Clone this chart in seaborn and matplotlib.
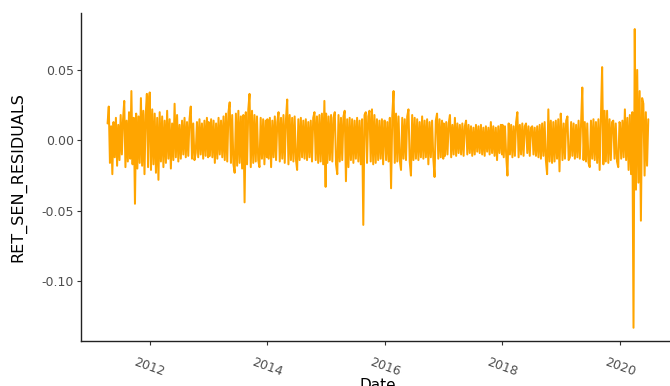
import pandas as pd
import numpy as np
import matplotlib
matplotlib.use("Agg")
import matplotlib.pyplot as plt
import matplotlib.dates as mdates
from matplotlib.ticker import FormatStrFormatter
import seaborn as sns

# Residuals, one list per calendar year (approximate weekly sampling)
res_2011 = [.012, .024, -.016, .010, -.024, .013, -.012, .016, -.018, .011,
            -.014, .018, -.010, .015, .028, -.019, .014, -.015, .020, -.013,
            .035, -.017, .016, -.045, .019, -.020, .017, -.016, .030, -.018,
            .021, -.024, .018, .033, -.019, .031]
res_2012 = [.034, -.021, .022, -.017, .019, -.023, .016, -.028, .020, -.015,
            .017, -.019, .014, -.016, .021, -.013, .015, -.020, .012, -.014,
            .026, -.012, .018, -.015, .011, -.013, .014, -.010, .016, -.012,
            .013, -.011, .015, .024, -.013, .012, -.014, -.009, .013, -.012,
            .015, -.010, .012, -.013, .014, -.011, .016, -.012]
res_2013 = [.013, -.011, .015, -.012, .014, -.016, .012, -.013, .016, -.010,
            .014, -.012, .017, -.014, .019, -.015, .020, .027, -.016, .018,
            -.017, -.023, .019, -.018, .021, -.016, .017, -.020, .018, -.044,
            .020, -.017, .022, .033, -.019, .021, -.016, .018, -.015, .017,
            -.014, -.019, .016, -.013, .015, -.017, .014, -.012]
res_2014 = [.015, -.013, .016, -.019, .014, -.012, .017, -.014, .013, .020,
            -.015, .016, -.013, .018, -.016, .015, .029, -.017, .018, -.014,
            .016, -.015, .017, -.013, -.021, .015, -.014, .016, -.012, .014,
            -.013, .015, -.014, .013, -.012, .014, -.015, .016, .020, -.014,
            .017, -.016, .018, -.015, .019, -.017, .028, -.033]
res_2015 = [.019, -.016, .017, -.014, .018, -.015, .016, .020, -.017, -.024,
            .018, -.015, .016, -.014, .017, .021, -.029, .015, -.019, .016,
            -.014, .015, -.016, .014, -.013, .016, -.015, .014, -.017, .015,
            -.060, .018, .020, -.016, .017, .021, -.015, .022, -.017, .018,
            -.016, .015, -.014, .014, -.013, .015, -.017, .014]
res_2016 = [.014, -.014, .013, -.015, .016, -.034, .018, .035, -.016, .019,
            -.015, .017, -.014, -.021, .016, -.013, .015, -.014, .017, .022,
            -.015, -.025, .018, -.014, .016, -.013, .015, -.014, .013, -.012,
            .017, -.013, .014, -.012, .015, -.017, .013, -.012, .014, -.013,
            -.026, .014, .019, -.013, .015, -.012, .014, -.013]
res_2017 = [.012, -.011, .013, -.010, .012, .018, -.012, .011, -.010, .016,
            -.011, .012, -.009, .011, -.010, .012, -.011, .010, .014, -.010,
            .011, -.009, .010, -.011, .009, -.010, .011, -.008, .010, -.009,
            .011, -.010, .009, -.011, .010, -.008, .009, -.010, .013, -.009,
            .010, -.011, .009, -.014, .010, -.009, .011, -.010]
res_2018 = [.011, -.012, .010, -.011, -.025, .012, -.010, .011, -.012, .010,
            -.011, .013, .020, -.012, .011, -.010, .012, -.011, .010, .012,
            -.009, .010, -.011, .009, .010, -.010, .009, -.011, .010, -.012,
            .011, -.013, .012, -.011, .013, -.014, -.024, .022, -.015, .014,
            -.016, .013, -.015, .014, -.013, .015, -.022, .019]
res_2019 = [.013, -.014, .012, -.013, .014, .017, -.014, -.012, .013, -.011,
            .012, -.013, .011, -.012, .014, -.013, .012, .0375, -.014, .013,
            -.015, .012, -.016, -.019, .014, -.013, .015, -.014, .013, -.016,
            .015, -.021, .016, .052, -.017, .021, -.015, .021, -.016, .015,
            -.014, .013, .014, -.013, .012, -.015, -.019, .013]
res_2020 = [.012, -.013, .014, -.012, .022, -.014, .016, -.021, .018, -.024,
            .020, -.133, .079, -.035, .050, -.030, .035, -.057, .030, .026,
            -.025, .020, -.018, .015]

year_spans = [("2011-04-15", "2011-12-30", res_2011),
              ("2012-01-02", "2012-12-30", res_2012),
              ("2013-01-02", "2013-12-30", res_2013),
              ("2014-01-02", "2014-12-30", res_2014),
              ("2015-01-02", "2015-12-30", res_2015),
              ("2016-01-02", "2016-12-30", res_2016),
              ("2017-01-02", "2017-12-30", res_2017),
              ("2018-01-02", "2018-12-30", res_2018),
              ("2019-01-02", "2019-12-30", res_2019),
              ("2020-01-02", "2020-06-26", res_2020)]

frames = []
for start, end, vals in year_spans:
    frames.append(pd.DataFrame({
        "Date": pd.date_range(start, end, periods=len(vals)),
        "RET_SEN_RESIDUALS": vals,
    }))
df = pd.concat(frames, ignore_index=True)

sns.set_style("ticks")
plt.rcParams["font.family"] = ["DejaVu Sans"]
plt.rcParams["path.simplify"] = False

W, H = 670, 386
fig = plt.figure(figsize=(W / 100, H / 100), dpi=100)
ax = fig.add_axes([80.7 / W, 45 / H, (675 - 80.7) / W, (341 - 13) / H])

sns.lineplot(data=df, x="Date", y="RET_SEN_RESIDUALS", color="#FFA500",
             linewidth=1.45, estimator=None, ax=ax)

ax.set_xlim(pd.Timestamp("2010-10-30"), pd.Timestamp("2020-12-09"))
ax.set_ylim(-0.1424, 0.0904)
ax.set_yticks([-0.10, -0.05, 0.00, 0.05])
ax.yaxis.set_major_formatter(FormatStrFormatter("%.2f"))
ax.xaxis.set_major_locator(mdates.YearLocator(base=2))
ax.xaxis.set_major_formatter(mdates.DateFormatter("%Y"))

for s in ["top", "right"]:
    ax.spines[s].set_visible(False)
for s in ["left", "bottom"]:
    ax.spines[s].set_color("#222222")
    ax.spines[s].set_linewidth(1.0)

ax.tick_params(axis="both", colors="#333333", length=2.8, width=0.8,
               labelcolor="#4D4D4D", labelsize=9)
ax.tick_params(axis="y", pad=2)
ax.tick_params(axis="x", pad=8)
for lab in ax.get_xticklabels():
    lab.set_rotation(-20)
    lab.set_ha("center")
    lab.set_va("top")

ax.set_xlabel("Date", fontsize=11, color="black", labelpad=-1)
ax.set_ylabel("RET_SEN_RESIDUALS", fontsize=11.5, color="black", labelpad=11)
ax.grid(False)
ax.set_facecolor("white")
fig.patch.set_facecolor("white")

fig.savefig("out.png", dpi=100)
